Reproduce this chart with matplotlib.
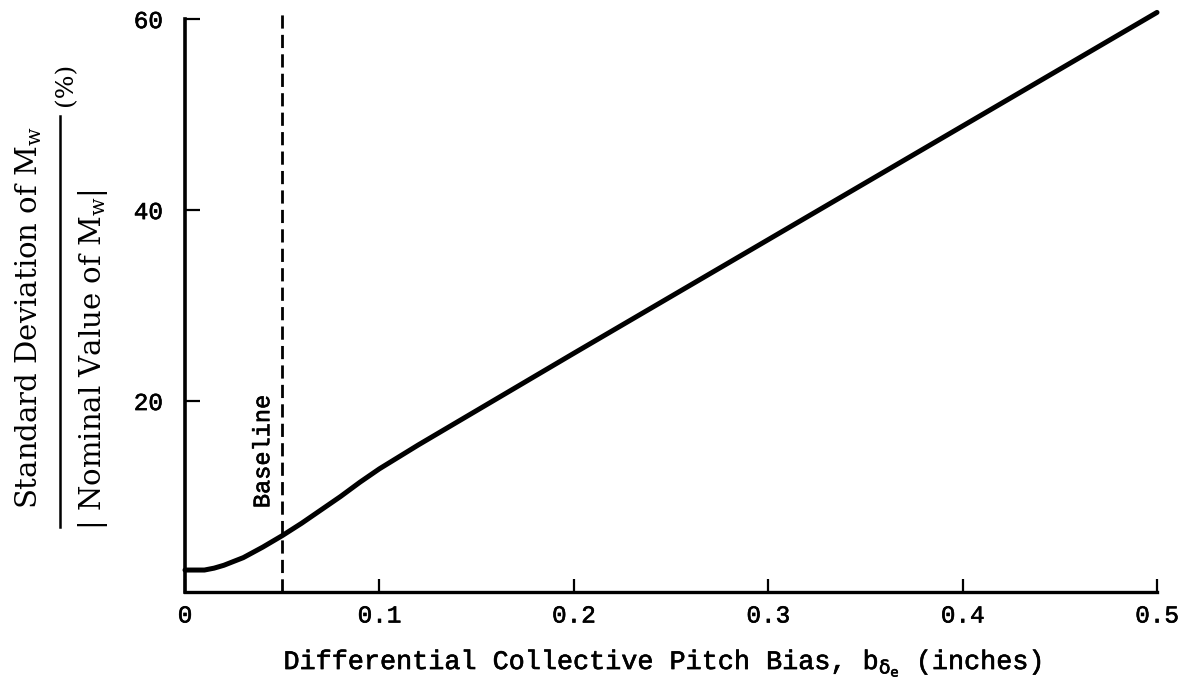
import matplotlib
matplotlib.use("Agg")
import matplotlib.pyplot as plt
import matplotlib.patheffects as pe
from matplotlib.lines import Line2D

# pitch bias (inches) vs normalized standard deviation of Mw (%)
bias = [0.0, 0.01, 0.015, 0.02, 0.03, 0.04, 0.05, 0.06, 0.07, 0.08, 0.09, 0.1, 0.12, 0.2, 0.3, 0.4, 0.5]
sd_pct = [2.3, 2.3, 2.5, 2.8, 3.6, 4.7, 5.9, 7.2, 8.6, 10.0, 11.5, 12.9, 15.4, 25.0, 36.9, 48.8, 60.7]

baseline_bias = 0.05
xticks = [0, 0.1, 0.2, 0.3, 0.4, 0.5]
xtick_labels = ["0", "0.1", "0.2", "0.3", "0.4", "0.5"]
yticks = [20, 40, 60]

W, H = 1192, 696
plt.rcParams["mathtext.fontset"] = "custom"
plt.rcParams["mathtext.rm"] = "DejaVu Serif"
plt.rcParams["mathtext.it"] = "DejaVu Sans"
plt.rcParams["mathtext.sf"] = "DejaVu Sans"
plt.rcParams["lines.scale_dashes"] = False

# slightly heavier strokes for the typewriter-style text
ink = [pe.withStroke(linewidth=0.45, foreground="black")]

fig = plt.figure(figsize=(W / 100, H / 100), dpi=100)
ax = fig.add_axes([185 / W, (H - 592) / H, (1157 - 185) / W, 592 / H])

ax.plot(bias, sd_pct, color="black", lw=3.6, solid_capstyle="round", clip_on=False)
ax.plot([baseline_bias, baseline_bias], [0, 61], color="black", lw=2.0,
        dashes=(9.5, 4.5), clip_on=False)
ax.text(0.040, 14.7, "Baseline", rotation=90, ha="center", va="center",
        fontsize=17, family="Liberation Mono", path_effects=ink)

ax.set_xlim(0, 0.5)
ax.set_ylim(0, 62)
for s in ["top", "right"]:
    ax.spines[s].set_visible(False)
ax.spines["left"].set_bounds(0, 60)
ax.spines["left"].set_linewidth(2.6)
ax.spines["bottom"].set_linewidth(2.4)

ax.set_xticks(xticks)
ax.set_xticklabels(xtick_labels)
ax.set_yticks(yticks)
ax.tick_params(axis="x", direction="in", length=9.5, width=1.6, pad=9, labelsize=17.5)
ax.tick_params(axis="y", direction="in", length=11, width=1.6, pad=16, labelsize=17.5)
for lab in ax.get_xticklabels() + ax.get_yticklabels():
    lab.set_family("Liberation Mono")
    lab.set_path_effects(ink)


def fx(px):
    return px / W


def fy(py):
    return 1 - py / H


# x axis title
fig.text(fx(662), fy(663), r"Differential Collective Pitch Bias, b$_{\delta_{\mathsf{e}}}$ (inches)",
         ha="center", va="center", fontsize=19.3, family="Liberation Mono", path_effects=ink)

# y axis title drawn as a fraction
fig.text(fx(29), fy(318), r"Standard Deviation of M$_{\mathrm{w}}$", rotation=90,
         ha="center", va="center", fontsize=21, family="DejaVu Serif")
fig.add_artist(Line2D([fx(60), fx(60)], [fy(527), fy(116)], color="black", lw=1.8))
fig.text(fx(93), fy(360), r"| Nominal Value of M$_{\mathrm{w}}$|", rotation=90,
         ha="center", va="center", fontsize=21, family="DejaVu Serif")
fig.text(fx(66), fy(84), "(%)", rotation=90, ha="center", va="center",
         fontsize=18, family="DejaVu Serif")

fig.savefig("out.png", dpi=100)
